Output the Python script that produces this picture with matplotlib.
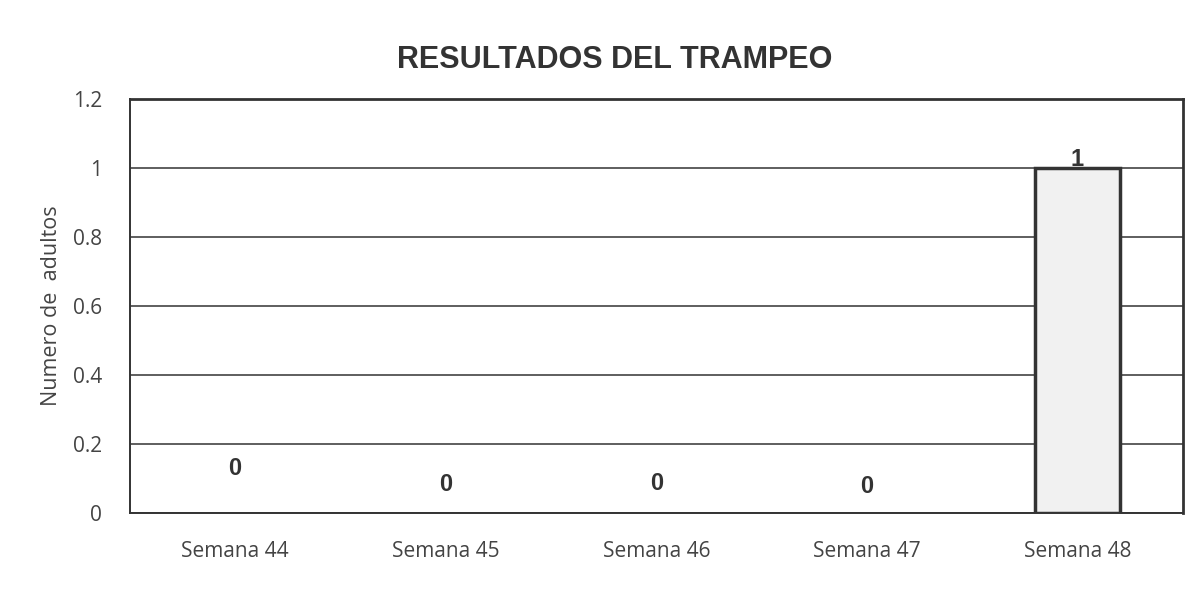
import matplotlib
matplotlib.use("Agg")
import matplotlib.pyplot as plt
from matplotlib.ticker import FixedLocator, FixedFormatter

categories = ["Semana 44", "Semana 45", "Semana 46", "Semana 47", "Semana 48"]
values = [0, 0, 0, 0, 1]
y_ticks = [0, 0.2, 0.4, 0.6, 0.8, 1, 1.2]
y_tick_labels = ["0", "0.2", "0.4", "0.6", "0.8", "1", "1.2"]
title = "RESULTADOS DEL TRAMPEO"
ylabel = "Numero de  adultos"
label_offsets = [24, 12, 13, 11, -2]  # point offsets above bar top for data labels

fig = plt.figure(figsize=(12.02, 5.89), dpi=100)
ax = fig.add_axes([0.108, 0.129, 0.876, 0.703])

x = list(range(len(categories)))
bars = ax.bar(x, values, width=0.4, color="#f1f1f1", edgecolor="#333333",
              linewidth=2.5, zorder=3)
for b, v in zip(bars, values):
    if v == 0:
        b.set_edgecolor("none")
for i, (xi, v) in enumerate(zip(x, values)):
    ax.annotate(str(v), (xi, v), xytext=(0, label_offsets[i]), textcoords="offset points",
                ha="center", va="bottom", fontsize=17, fontweight="bold",
                family="Liberation Sans", color="#333333", zorder=4)

ax.set_xlim(-0.5, len(categories) - 0.5)
ax.set_ylim(0, 1.2)
ax.yaxis.set_major_locator(FixedLocator(y_ticks))
ax.yaxis.set_major_formatter(FixedFormatter(y_tick_labels))
ax.set_xticks(x)
ax.set_xticklabels(categories)
ax.tick_params(axis="both", length=0, labelsize=15, labelcolor="#444444")
ax.tick_params(axis="x", pad=20)
ax.tick_params(axis="y", pad=20)
for lab in ax.get_xticklabels() + ax.get_yticklabels():
    lab.set_family("Open Sans")

ax.grid(axis="y", color="#333333", linewidth=1.1, zorder=1)
ax.set_axisbelow(True)
for side, sp in ax.spines.items():
    sp.set_color("#333333")
    sp.set_linewidth(2.0 if side in ("top", "right") else 1.4)

ax.set_ylabel(ylabel, fontsize=15.5, family="Open Sans", color="#444444", labelpad=8)
fig.text(0.511, 0.898, title, ha="center", va="center", fontsize=22,
         fontweight="bold", family="Liberation Sans", color="#333333")

fig.savefig("out.png", dpi=100)
